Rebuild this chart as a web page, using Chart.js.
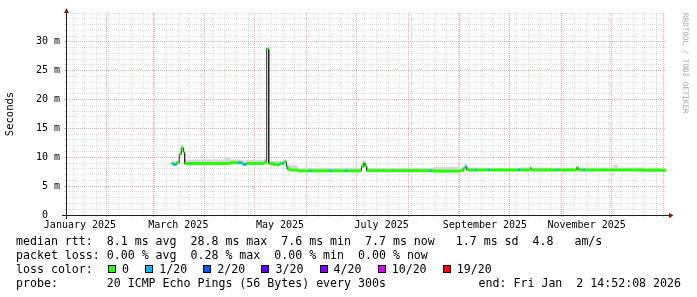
<!DOCTYPE html>
<html>
<head>
<meta charset="utf-8">
<script src="https://cdn.jsdelivr.net/npm/chart.js@4.4.1/dist/chart.umd.min.js"></script>
<style>
html,body{margin:0;padding:0;background:#fff;}
#wrap{position:relative;width:697px;height:297px;overflow:hidden;background:#fff;}
#c{position:absolute;left:0;top:0;width:697px;height:297px;}
#legend{position:absolute;left:16px;top:234.9px;width:681px;font-family:"DejaVu Sans Mono",monospace;font-size:11.6px;line-height:13.9px;color:#000;white-space:pre;}
#legend .row{position:relative;height:13.9px;}
#legend .box{display:inline-block;width:6px;height:6px;border:1px solid #000;margin-right:6px;}
#legend .end{position:absolute;right:16px;top:0;}
</style>
</head>
<body>
<div id="wrap">
<canvas id="c" width="697" height="297"></canvas>
<div id="legend"></div>
</div>
<script>
// ---- data ----
const endTime = Date.UTC(2026, 0, 2, 14, 52, 8);
const spanDays = 360;

// median RTT runs: start time of each run (UTC), median (ms), top of smoke (ms), loss level index
const runStart = ['2025-03-11T21:00','2025-03-13T00:00','2025-03-15T00:00','2025-03-16T14:00','2025-03-17T19:00','2025-03-19T02:00','2025-03-19T19:00',
  '2025-04-13T00:00','2025-04-16T00:00','2025-04-21T00:00','2025-04-23T00:00','2025-04-24T00:00','2025-04-26T00:00','2025-05-06T12:00','2025-05-08T01:00',
  '2025-05-09T06:00','2025-05-12T00:00','2025-05-16T00:00','2025-05-17T12:00','2025-05-18T10:00','2025-05-19T22:00','2025-05-20T14:00','2025-05-22T00:00',
  '2025-05-26T14:00','2025-06-03T00:00','2025-06-04T00:00','2025-06-15T00:00','2025-06-16T00:00','2025-06-24T00:00','2025-06-25T00:00','2025-07-03T22:00',
  '2025-07-05T00:00','2025-07-05T22:00','2025-07-07T00:00','2025-08-14T00:00','2025-08-15T00:00','2025-08-17T00:00','2025-09-01T00:00','2025-09-03T00:00',
  '2025-09-04T00:00','2025-09-05T00:00','2025-09-06T00:00','2025-09-10T00:00','2025-09-11T00:00','2025-09-18T00:00','2025-09-19T00:00','2025-10-06T00:00',
  '2025-10-07T00:00','2025-10-13T00:00','2025-10-14T00:00','2025-10-29T00:00','2025-10-30T00:00','2025-11-10T00:00','2025-11-11T00:00','2025-11-14T00:00',
  '2025-11-15T00:00','2025-12-02T00:00','2025-12-05T00:00','2025-12-20T00:00','2026-01-01T00:00'];
const medianMs = [8.93,8.76,9.04,10.5,11.6,10.9,8.93,
  8.93,9.05,9.05,8.93,8.76,8.93,9.15,28.8,
  8.93,8.76,8.93,8.93,9.2,8.35,7.95,7.8,
  7.65,7.65,7.65,7.65,7.65,7.65,7.65,8.4,
  9.0,8.5,7.65,7.65,7.65,7.6,7.7,8.06,
  8.35,7.85,7.8,7.8,7.8,7.8,7.8,7.8,
  7.8,8.05,7.8,7.8,7.8,8.2,7.8,7.8,
  7.8,7.8,7.8,7.75,7.7];
const smokeTopMs = [9.5,9.3,9.6,11.1,12.2,11.5,9.6,
  10.0,9.6,9.6,9.55,9.45,9.55,9.7,29.0,
  9.45,9.35,9.45,9.45,9.6,8.9,8.7,8.6,
  8.2,8.15,8.15,8.15,8.15,8.15,8.15,8.9,
  9.5,9.0,8.15,8.15,8.25,8.35,8.25,8.55,
  8.95,8.35,8.25,8.25,8.2,8.2,8.2,8.2,
  8.25,8.55,8.2,8.2,8.2,8.55,8.2,8.2,
  8.25,8.65,8.25,8.2,8.15];
const lossIdx = [0,1,0,0,0,0,0,
  0,0,1,0,1,0,0,0,
  0,0,0,1,0,0,0,0,
  0,1,0,1,0,1,0,0,
  0,0,0,1,0,0,0,0,
  1,0,0,1,0,1,0,1,
  0,0,0,1,0,0,0,1,
  0,0,0,0,0];

const lossLabels = ['0','1/20','2/20','3/20','4/20','10/20','19/20'];
const lossColors = ['#26ff00','#00b8ff','#0059ff','#5e00ff','#7e00ff','#dd00ff','#ff0000'];

const yTickValues = [0,5,10,15,20,25,30];
const yTickLabels = ['0  ','5 m','10 m','15 m','20 m','25 m','30 m'];
const yMax = 35;

const xLabelDates = ['2025-01-16','2025-03-16','2025-05-16','2025-07-16','2025-09-16','2025-11-16'];
const xLabels = ['January 2025','March 2025','May 2025','July 2025','September 2025','November 2025'];

const rttLegend  = 'median rtt:  8.1 ms avg  28.8 ms max  7.6 ms min  7.7 ms now   1.7 ms sd  4.8   am/s';
const lossLegend = 'packet loss: 0.00 % avg  0.28 % max  0.00 % min  0.00 % now';
const probeLegend = 'probe:       20 ICMP Echo Pings (56 Bytes) every 300s';
const endLegend = 'end: Fri Jan  2 14:52:08 2026';

// ---- build ----
const DAY = 86400000;
const startTime = endTime - spanDays * DAY;
const toT = s => Date.parse(s.length > 10 ? s + ':00Z' : s + 'T00:00:00Z');
const runT = runStart.map(toT);

function stepPoints(values) {
  const pts = [];
  for (let i = 0; i < runT.length; i++) {
    const t1 = i + 1 < runT.length ? runT[i + 1] : endTime;
    pts.push({x: runT[i], y: values[i], loss: lossIdx[i]});
    pts.push({x: t1, y: values[i], loss: lossIdx[i]});
  }
  return pts;
}
const medPts = stepPoints(medianMs);
const smokePts = stepPoints(smokeTopMs);

const MINOR = 'rgba(140,140,140,0.28)';
const MAJOR = 'rgba(222,79,79,0.5)';
const NONE = 'rgba(0,0,0,0)';
const kindColor = k => k === 'major' ? MAJOR : (k === 'minor' ? MINOR : NONE);

function buildXTicks(scale) {
  const ticks = [];
  const seen = new Set();
  for (let y = 2025, m = 0; ; ) {
    const t = Date.UTC(y, m, 1);
    if (t > endTime) break;
    if (t >= startTime) { ticks.push({value: t, kind: 'major'}); seen.add(t); }
    m++; if (m === 12) { m = 0; y++; }
  }
  const d = new Date(startTime); d.setUTCHours(0, 0, 0, 0);
  while (d.getUTCDay() !== 0) d.setUTCDate(d.getUTCDate() + 1);
  for (let t = d.getTime(); t <= endTime; t += 7 * DAY) {
    if (t >= startTime && !seen.has(t)) ticks.push({value: t, kind: 'minor'});
  }
  xLabelDates.forEach((s, i) => ticks.push({value: toT(s), kind: 'label', text: xLabels[i]}));
  ticks.sort((a, b) => a.value - b.value);
  scale.ticks = ticks;
}
function buildYTicks(scale) {
  const ticks = [];
  for (let v = 0; v <= yMax; v++) ticks.push({value: v, kind: yTickValues.includes(v) ? 'major' : 'minor'});
  scale.ticks = ticks;
}

const axesPlugin = {
  id: 'rrdAxes',
  afterDatasetsDraw(chart) {
    const {ctx, chartArea: {left, right, top, bottom}} = chart;
    const ax = left + 0.5, ay = bottom + 0.5;
    ctx.save();
    ctx.strokeStyle = '#1f1f1f';
    ctx.lineWidth = 1;
    ctx.beginPath();
    ctx.moveTo(left - 4, ay); ctx.lineTo(right + 3, ay);
    ctx.moveTo(ax, bottom + 4); ctx.lineTo(ax, top);
    ctx.stroke();
    ctx.fillStyle = '#801f1f';
    ctx.beginPath();
    ctx.moveTo(ax - 2.5, top); ctx.lineTo(ax + 2.5, top); ctx.lineTo(ax, top - 5);
    ctx.closePath(); ctx.fill();
    ctx.beginPath();
    ctx.moveTo(right + 3, ay - 2.7); ctx.lineTo(right + 3, ay + 2.7); ctx.lineTo(right + 7.5, ay);
    ctx.closePath(); ctx.fill();
    ctx.restore();
  }
};

Chart.defaults.font.family = '"DejaVu Sans Mono", monospace';
Chart.defaults.color = '#000';

new Chart(document.getElementById('c'), {
  type: 'line',
  data: {
    datasets: [
      { label: 'median', data: medPts, borderWidth: 3, pointRadius: 0, fill: false, tension: 0,
        borderColor: lossColors[0],
        segment: { borderColor: c => c.p0.parsed.x === c.p1.parsed.x ? NONE : lossColors[medPts[c.p0DataIndex].loss] } },
      { label: 'median line', data: medPts, borderWidth: 1, borderColor: '#202020', pointRadius: 0, fill: false, tension: 0 },
      { label: 'smoke', data: smokePts, borderWidth: 0, borderColor: NONE, backgroundColor: '#d6d6d6', pointRadius: 0, fill: '+1', tension: 0 },
      { label: 'smoke base', data: medPts, borderWidth: 0, borderColor: NONE, pointRadius: 0, fill: false, tension: 0 }
    ]
  },
  options: {
    responsive: false,
    animation: false,
    devicePixelRatio: 1,
    events: [],
    layout: { padding: { top: 13, left: 0, right: 0, bottom: 0 } },
    plugins: { legend: { display: false }, tooltip: { enabled: false } },
    scales: {
      x: {
        type: 'linear', position: 'bottom', min: startTime, max: endTime,
        afterBuildTicks: buildXTicks,
        afterFit: s => { s.height = 82; },
        ticks: { autoSkip: false, maxRotation: 0, minRotation: 0, padding: 2, font: { size: 10 }, color: '#000',
          callback: (v, i, ticks) => ticks[i].text || '' },
        grid: { color: c => kindColor(c.tick && c.tick.kind), tickColor: c => kindColor(c.tick && c.tick.kind), tickLength: 2, lineWidth: 1 },
        border: { display: false, dash: [1, 1] }
      },
      y: {
        type: 'linear', position: 'left', min: 0, max: yMax,
        afterBuildTicks: buildYTicks,
        afterFit: s => { s.width = 66; },
        ticks: { autoSkip: false, padding: 4, font: { size: 10 }, color: '#000',
          callback: v => { const k = yTickValues.indexOf(v); return k >= 0 ? yTickLabels[k] : ''; } },
        grid: { color: c => kindColor(c.tick && c.tick.kind), tickColor: c => kindColor(c.tick && c.tick.kind), tickLength: 2, lineWidth: 1 },
        border: { display: false, dash: [1, 1] },
        title: { display: true, text: 'Seconds', font: { size: 10.5 }, color: '#000', padding: { top: 4, bottom: 0 } }
      },
      y2: {
        type: 'linear', position: 'right', min: 0, max: yMax,
        afterFit: s => { s.width = 31; },
        ticks: { display: false },
        grid: { display: false, drawTicks: false },
        border: { display: false },
        title: { display: true, text: 'RRDTOOL / TOBI OETIKER', align: 'end', font: { size: 7.6 }, color: '#aaaaaa', padding: { top: 7.5, bottom: 0 } }
      }
    }
  },
  plugins: [axesPlugin]
});

// ---- text legend below the graph ----
const lg = document.getElementById('legend');
function row(text) { const d = document.createElement('div'); d.className = 'row'; d.textContent = text; lg.appendChild(d); return d; }
row(rttLegend);
row(lossLegend);
const lc = row('loss color:');
lossLabels.forEach((lab, i) => {
  const b = document.createElement('span');
  b.className = 'box';
  b.style.background = lossColors[i];
  b.style.marginLeft = i === 0 ? '15.3px' : '16.2px';
  lc.appendChild(b);
  lc.appendChild(document.createTextNode(lab));
});
const pr = row(probeLegend);
const en = document.createElement('span'); en.className = 'end'; en.textContent = endLegend;
pr.appendChild(en);
</script>
</body>
</html>
